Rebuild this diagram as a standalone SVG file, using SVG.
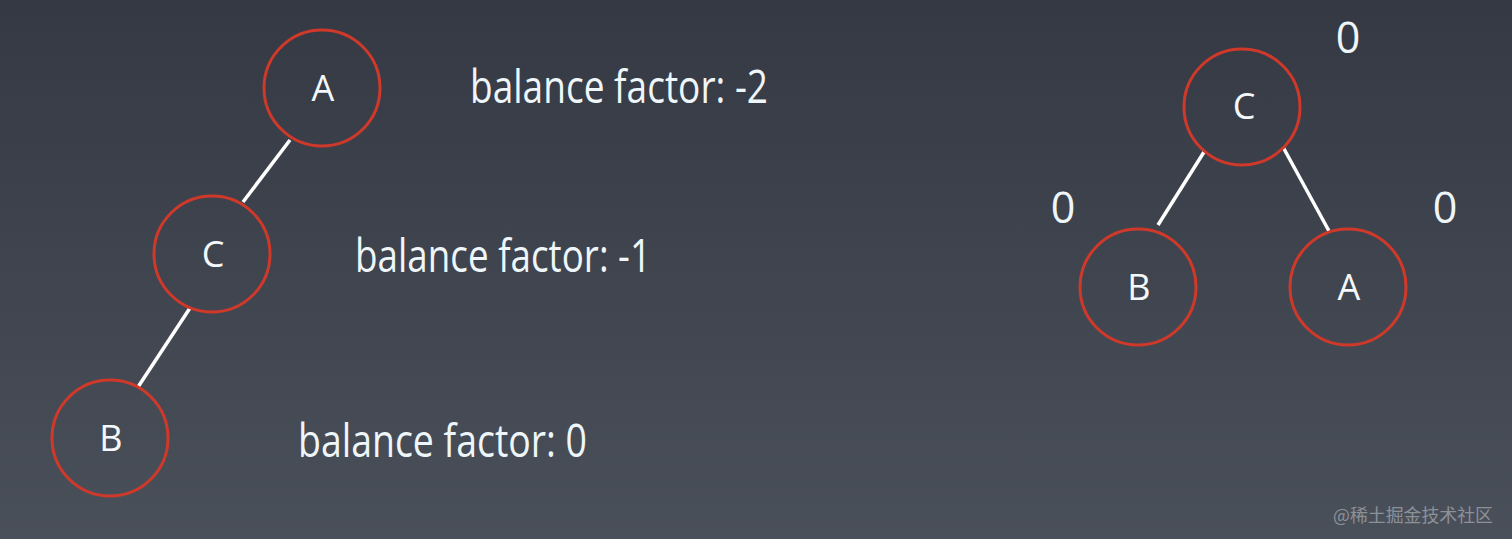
<svg xmlns="http://www.w3.org/2000/svg" width="1512" height="539" viewBox="0 0 1512 539">
<defs>
<linearGradient id="bg" x1="0" y1="0" x2="0" y2="1">
<stop offset="0" stop-color="#343943"/>
<stop offset="1" stop-color="#4a505a"/>
</linearGradient>
</defs>
<style>
.node circle{fill:none;stroke:#d0392a;stroke-width:3}
.node text{fill:#f4f8fb;font-family:"Open Sans","Noto Sans",sans-serif;font-size:36px;text-anchor:middle}
.edge{stroke:#ffffff;stroke-width:3.5;stroke-linecap:butt}
.bf{fill:#eef6fa;font-family:"Open Sans","Noto Sans",sans-serif;font-size:45px}
.zero{fill:#eef6fa;font-family:"Open Sans","Noto Sans",sans-serif;font-size:43px;text-anchor:middle}
.wm{fill:#8c9198;font-family:"Noto Sans CJK SC",sans-serif;font-size:18px}
</style>
<rect width="1512" height="539" fill="url(#bg)"/>
<g id="connectors">
<line class="edge" x1="290" y1="140" x2="243" y2="202"/>
<line class="edge" x1="190" y1="308" x2="138" y2="387"/>
<line class="edge" x1="1204" y1="152" x2="1158" y2="225"/>
<line class="edge" x1="1283" y1="147" x2="1329" y2="231"/>
</g>
<g id="node-A-left" class="node"><circle cx="322" cy="88" r="58"/><text x="323" y="101">A</text></g>
<g id="node-C-left" class="node"><circle cx="212" cy="254" r="58"/><text x="213" y="267">C</text></g>
<g id="node-B-left" class="node"><circle cx="110" cy="438" r="58"/><text x="111" y="451">B</text></g>
<g id="node-C-right" class="node"><circle cx="1242" cy="107" r="58"/><text x="1244" y="119">C</text></g>
<g id="node-B-right" class="node"><circle cx="1138" cy="287" r="58"/><text x="1139" y="300">B</text></g>
<g id="node-A-right" class="node"><circle cx="1348" cy="287" r="58"/><text x="1349" y="300">A</text></g>
<g id="labels">
<text class="bf" x="470" y="103" textLength="298" lengthAdjust="spacingAndGlyphs">balance factor: -2</text>
<text class="bf" x="355" y="272" textLength="296" lengthAdjust="spacingAndGlyphs">balance factor: -1</text>
<text class="bf" x="298" y="457" textLength="289" lengthAdjust="spacingAndGlyphs">balance factor: 0</text>
<text class="zero" x="1348" y="53">0</text>
<text class="zero" x="1063" y="223">0</text>
<text class="zero" x="1445" y="223">0</text>
</g>
<text class="wm" x="1333" y="522" textLength="160" lengthAdjust="spacingAndGlyphs">@稀土掘金技术社区</text>
</svg>
